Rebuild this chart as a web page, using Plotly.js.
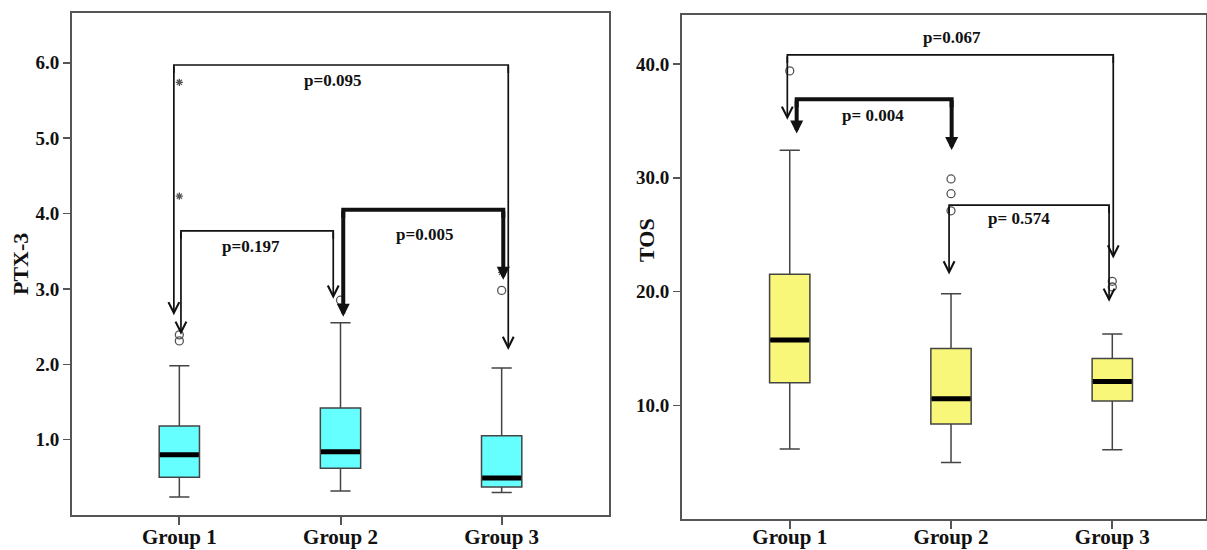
<!DOCTYPE html>
<html><head><meta charset="utf-8">
<script src="https://cdn.plot.ly/plotly-3.0.1.min.js"></script>
<style>html,body{margin:0;padding:0;background:#fff;} #chart{width:1207px;height:550px;}</style>
</head><body><div id="chart"></div>
<script>
// ---------- data ----------
const groups = ['Group 1', 'Group 2', 'Group 3'];
const ptxTicks = [1, 2, 3, 4, 5, 6];
const tosTicks = [10, 20, 30, 40];

// PTX-3 box statistics
const ptxLowerFence = [0.24, 0.32, 0.30];
const ptxQ1 = [0.50, 0.62, 0.37];
const ptxMedian = [0.80, 0.84, 0.49];
const ptxQ3 = [1.18, 1.42, 1.05];
const ptxUpperFence = [1.98, 2.55, 1.95];
const ptxOutlierGroup = [0, 0, 1, 2];
const ptxOutlierValue = [2.39, 2.31, 2.85, 2.98];
const ptxExtremeGroup = [0, 0, 2];
const ptxExtremeValue = [5.74, 4.23, 3.22];

// TOS box statistics
const tosLowerFence = [6.15, 4.97, 6.09];
const tosQ1 = [11.98, 8.35, 10.37];
const tosMedian = [15.73, 10.57, 12.09];
const tosQ3 = [21.53, 15.0, 14.11];
const tosUpperFence = [32.43, 19.8, 16.26];
const tosOutlierGroup = [0, 1, 1, 1, 2, 2];
const tosOutlierValue = [39.4, 29.9, 28.6, 27.1, 20.9, 20.4];

// pairwise comparisons
const ptxPLabels = ['p=0.095', 'p=0.197', 'p=0.005'];
const ptxCompFrom = [0, 0, 1];
const ptxCompTo = [2, 1, 2];
const ptxBracketTop = [5.97, 3.77, 4.05];
const ptxTipFrom = [2.65, 2.39, 2.63];
const ptxTipTo = [2.19, 2.87, 3.12];

const tosPLabels = ['p=0.067', 'p= 0.004', 'p= 0.574'];
const tosCompFrom = [0, 0, 1];
const tosCompTo = [2, 1, 2];
const tosBracketTop = [40.8, 36.9, 27.6];
const tosTipFrom = [35.1, 33.9, 21.5];
const tosTipTo = [22.9, 32.45, 19.1];

// ---------- layout config (positions / styles) ----------
const W = 1207, H = 550;
const FONT = 'Liberation Serif, Times New Roman, serif';
const INK = '#111';
const AX = '#555';
const L = {x0: 72, x1: 609, y0: 13.3, y1: 515, xr: [-0.666, 2.666], yr: [0, 6.656], standoff: -6};
const R = {x0: 682, x1: 1206, y0: 14.7, y1: 519, xr: [-0.668, 2.581], yr: [0, 44.34], standoff: -10};
const ptxLegOffFrom = [-0.034, 0.01, 0.017];
const ptxLegOffTo = [0.041, -0.045, 0.01];
const ptxLabelPos = [[0.95, 5.77], [0.444, 3.56], [1.52, 3.72]];
const tosLegOffFrom = [-0.015, 0.043, -0.012];
const tosLegOffTo = [0.006, 0.004, -0.02];
const tosLabelPos = [[1.007, 42.3], [0.518, 35.47], [1.42, 26.46]];

const idx = groups.map((g, i) => i);

function boxTrace(xa, ya, lf, q1, med, q3, uf, fill) {
  return {
    type: 'box', xaxis: xa, yaxis: ya, x: idx,
    lowerfence: lf, q1: q1, median: med, q3: q3, upperfence: uf,
    width: 0.25, whiskerwidth: 0.5, boxpoints: false,
    fillcolor: fill, line: {color: '#444', width: 1.5},
    hoverinfo: 'skip', showlegend: false
  };
}
function medianTrace(xa, ya, med) {
  const xs = [], ys = [];
  med.forEach((m, i) => { xs.push(i - 0.121, i + 0.121, null); ys.push(m, m, null); });
  return {type: 'scatter', mode: 'lines', xaxis: xa, yaxis: ya, x: xs, y: ys,
    line: {color: '#000', width: 5}, hoverinfo: 'skip', showlegend: false};
}
function pointTrace(xa, ya, g, v, symbol, size) {
  return {type: 'scatter', mode: 'markers', xaxis: xa, yaxis: ya, x: g, y: v,
    marker: {symbol: symbol, size: size, color: '#555', line: {color: '#555', width: 1.3}},
    hoverinfo: 'skip', showlegend: false};
}

const shapes = [], annotations = [];
function brackets(xref, yref, P, from, to, top, tipF, tipT, labels, offF, offT, lpos) {
  const pxPerUnit = (P.y1 - P.y0) / (P.yr[1] - P.yr[0]);
  labels.forEach((lab, i) => {
    const pval = parseFloat(lab.replace(/[^0-9.]/g, ''));
    const thick = pval < 0.05;
    const lw = thick ? 4 : 1.7;
    const xa = from[i] + offF[i], xb = to[i] + offT[i];
    const d = 8 / pxPerUnit;
    shapes.push({type: 'path', xref: xref, yref: yref,
      path: `M ${xa},${top[i] - d} L ${xa},${top[i]} L ${xb},${top[i]} L ${xb},${top[i] - d}`,
      line: {color: INK, width: lw}});
    [[xa, tipF[i]], [xb, tipT[i]]].forEach(([x, tip]) => {
      annotations.push({xref: xref, yref: yref, axref: xref, ayref: yref,
        x: x, y: tip, ax: x, ay: top[i], text: '', showarrow: true,
        arrowhead: thick ? 2 : 5, arrowsize: thick ? 0.65 : 1.25,
        arrowwidth: lw, arrowcolor: INK, standoff: 0, startstandoff: 0});
    });
    annotations.push({xref: xref, yref: yref, x: lpos[i][0], y: lpos[i][1],
      xanchor: 'center', yanchor: 'middle',
      text: lab, showarrow: false,
      font: {family: FONT, size: 17, color: INK, weight: 700}});
  });
}
brackets('x', 'y', L, ptxCompFrom, ptxCompTo, ptxBracketTop, ptxTipFrom, ptxTipTo,
  ptxPLabels, ptxLegOffFrom, ptxLegOffTo, ptxLabelPos);
brackets('x2', 'y2', R, tosCompFrom, tosCompTo, tosBracketTop, tosTipFrom, tosTipTo,
  tosPLabels, tosLegOffFrom, tosLegOffTo, tosLabelPos);

annotations.push({xref: 'paper', yref: 'paper', x: 20 / W, y: 1 - 264 / H, text: 'PTX-3',
  xanchor: 'center', yanchor: 'middle',
  textangle: -90, showarrow: false, font: {family: FONT, size: 22, color: INK, weight: 700}});
annotations.push({xref: 'paper', yref: 'paper', x: 647 / W, y: 1 - 240 / H, text: 'TOS',
  xanchor: 'center', yanchor: 'middle',
  textangle: -90, showarrow: false, font: {family: FONT, size: 22, color: INK, weight: 700}});

const data = [
  boxTrace('x', 'y', ptxLowerFence, ptxQ1, ptxMedian, ptxQ3, ptxUpperFence, '#66FFFF'),
  medianTrace('x', 'y', ptxMedian),
  pointTrace('x', 'y', ptxOutlierGroup, ptxOutlierValue, 'circle-open', 8),
  pointTrace('x', 'y', ptxExtremeGroup, ptxExtremeValue, 'asterisk-open', 6),
  boxTrace('x2', 'y2', tosLowerFence, tosQ1, tosMedian, tosQ3, tosUpperFence, '#F9F77A'),
  medianTrace('x2', 'y2', tosMedian),
  pointTrace('x2', 'y2', tosOutlierGroup, tosOutlierValue, 'circle-open', 8)
];

function xAxis(P) {
  return {domain: [P.x0 / W, P.x1 / W], range: P.xr, tickmode: 'array', tickvals: idx, ticktext: groups,
    ticks: 'outside', ticklen: 8, tickwidth: 2, tickcolor: AX, ticklabelstandoff: P.standoff,
    showline: true, linecolor: AX, linewidth: 2, mirror: true,
    showgrid: false, zeroline: false, fixedrange: true,
    tickfont: {family: FONT, size: 21, color: INK, weight: 700}};
}
function yAxis(P, vals) {
  return {domain: [1 - P.y1 / H, 1 - P.y0 / H], range: P.yr,
    tickmode: 'array', tickvals: vals, ticktext: vals.map(v => v.toFixed(1)),
    ticks: 'outside', ticklen: 7, tickwidth: 1.5, tickcolor: AX,
    showline: true, linecolor: AX, linewidth: 2, mirror: true,
    showgrid: false, zeroline: false, fixedrange: true,
    tickfont: {family: FONT, size: 19, color: INK, weight: 700}};
}

const layout = {
  width: W, height: H, margin: {l: 0, r: 0, t: 0, b: 0},
  paper_bgcolor: '#fff', plot_bgcolor: '#fff', showlegend: false,
  xaxis: Object.assign(xAxis(L), {anchor: 'y'}),
  yaxis: Object.assign(yAxis(L, ptxTicks), {anchor: 'x'}),
  xaxis2: Object.assign(xAxis(R), {anchor: 'y2'}),
  yaxis2: Object.assign(yAxis(R, tosTicks), {anchor: 'x2'}),
  shapes: shapes, annotations: annotations
};

Plotly.newPlot('chart', data, layout, {staticPlot: true, displayModeBar: false});
</script>
</body></html>
